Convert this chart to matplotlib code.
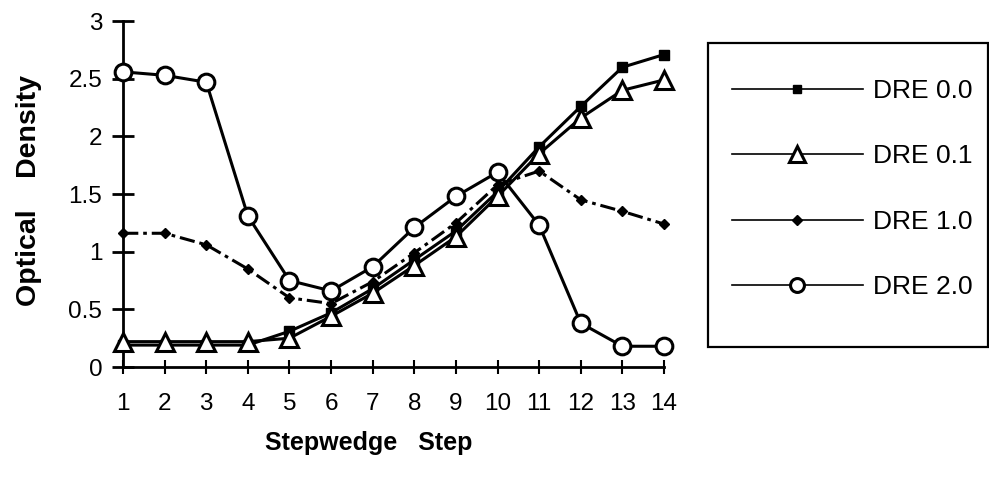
import numpy as np
import matplotlib.pyplot as plt
from matplotlib.patches import Rectangle

plt.rcParams['font.family'] = ['Liberation Sans', 'DejaVu Sans']

steps = np.arange(1, 15)
dre_00 = [0.19, 0.19, 0.19, 0.19, 0.31, 0.47, 0.68, 0.93, 1.18, 1.52, 1.91, 2.26, 2.60, 2.71]
dre_01 = [0.22, 0.22, 0.22, 0.22, 0.25, 0.44, 0.64, 0.88, 1.13, 1.48, 1.85, 2.16, 2.40, 2.49]
dre_10 = [1.16, 1.16, 1.06, 0.85, 0.60, 0.55, 0.74, 0.99, 1.25, 1.58, 1.70, 1.45, 1.35, 1.24]
dre_20 = [2.56, 2.53, 2.47, 1.31, 0.75, 0.66, 0.87, 1.21, 1.48, 1.69, 1.23, 0.38, 0.18, 0.18]
labels = ['DRE 0.0', 'DRE 0.1', 'DRE 1.0', 'DRE 2.0']

fig = plt.figure(figsize=(9.89, 4.8), dpi=100)
ax = fig.add_axes([0.1244, 0.2354, 0.547, 0.7206])

lw = 2.2
ax.plot(steps, dre_00, '-', color='black', lw=lw, marker='s', ms=6.5,
        mfc='black', mec='black', clip_on=False, label=labels[0], zorder=3)
ax.plot(steps, dre_01, '-', color='black', lw=lw, marker='^', ms=13,
        mfc='white', mec='black', mew=2.2, clip_on=False, label=labels[1], zorder=4)
ax.plot(steps, dre_10, color='black', lw=lw, dashes=[5, 1.6, 1.2, 1.6], marker='D', ms=5,
        mfc='black', mec='black', clip_on=False, label=labels[2], zorder=3)
ax.plot(steps, dre_20, '-', color='black', lw=lw, marker='o', ms=12,
        mfc='white', mec='black', mew=2.2, clip_on=False, label=labels[3], zorder=5)

ax.set_xlim(1, 14)
ax.set_ylim(0, 3)
ax.set_xticks(steps)
ax.set_yticks([0, 0.5, 1, 1.5, 2, 2.5, 3])
ax.set_yticklabels(['0', '0.5', '1', '1.5', '2', '2.5', '3'])

for side in ['top', 'right']:
    ax.spines[side].set_visible(False)
for side in ['left', 'bottom']:
    ax.spines[side].set_linewidth(2)

ax.tick_params(axis='y', direction='inout', length=16, width=2, pad=7, labelsize=17.5)
ax.tick_params(axis='x', direction='inout', length=10, width=1.5, pad=14, labelsize=17.5)

ax.set_xlabel('Stepwedge   Step', fontsize=18, fontweight='bold', labelpad=11)
ax.xaxis.label.set_x(0.455)
ax.set_ylabel('Optical    Density', fontsize=20.5, fontweight='bold', labelpad=19)
ax.yaxis.label.set_y(0.51)

# legend frame drawn separately so the spacing inside can be set freely
fig.patches.append(Rectangle((708 / 989, 1 - 347 / 480), 280 / 989, 304 / 480,
                             transform=fig.transFigure, fill=False,
                             edgecolor='black', lw=1.6))
leg = fig.legend(loc='upper left', bbox_to_anchor=(732 / 989, 1 - 79 / 480),
                 frameon=False, borderaxespad=0, borderpad=0, fontsize=19,
                 handlelength=4.95, handletextpad=0.38, labelspacing=1.57,
                 numpoints=1)
for h in leg.legend_handles:
    h.set_linewidth(1.2)
    m = h.get_marker()
    if m == '^':
        h.set_markersize(11)
    elif m == 'o':
        h.set_markersize(10)
    elif m == 's':
        h.set_markersize(6)
    elif m == 'D':
        h.set_markersize(5)
        h.set_linestyle('-')

fig.savefig('out.png', dpi=100)
